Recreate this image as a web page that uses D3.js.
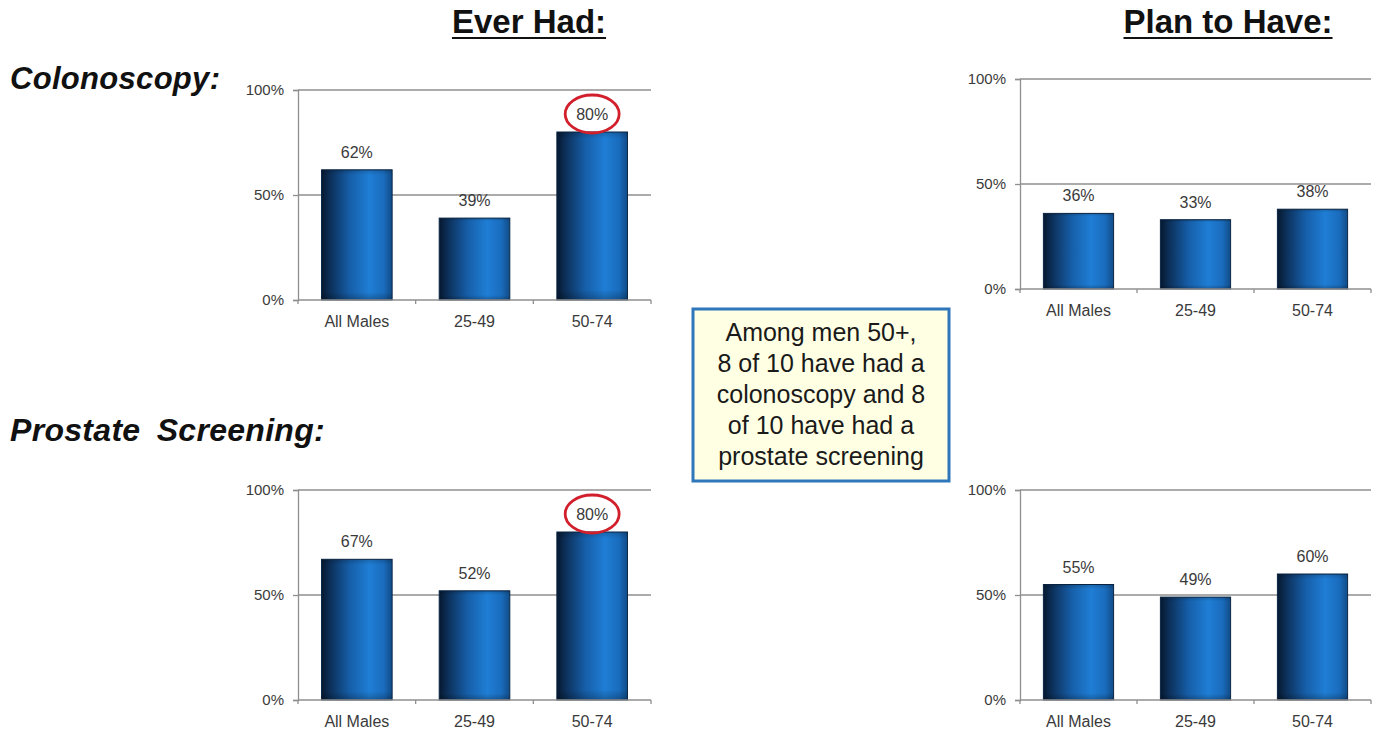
<!DOCTYPE html>
<html>
<head>
<meta charset="utf-8">
<script src="https://cdn.jsdelivr.net/npm/d3@7"></script>
<style>
  html, body { margin: 0; padding: 0; background: #fff; }
  svg { display: block; font-family: Arial, "Liberation Sans", sans-serif; }
</style>
</head>
<body>
<svg id="chart" width="1379" height="732"></svg>
<script>
// Screening rates among men, by age group
const categories = ["All Males", "25-49", "50-74"];
const colonoscopyEver = [62, 39, 80];
const colonoscopyPlan = [36, 33, 38];
const prostateEver = [67, 52, 80];
const prostatePlan = [55, 49, 60];
const yTicks = [0, 50, 100];
const highlightEver = [false, false, true];
const highlightPlan = [false, false, false];

const columnTitles = ["Ever Had:", "Plan to Have:"];
const rowTitles = ["Colonoscopy:", "Prostate Screening:"];
const noteLines = [
  "Among men 50+,",
  "8 of 10 have had a",
  "colonoscopy and 8",
  "of 10 have had a",
  "prostate screening"
];

const svg = d3.select("#chart");
const defs = svg.append("defs");

// Cylinder-like horizontal shading on bars
const grad = defs.append("linearGradient")
  .attr("id", "barGrad").attr("x1", "0").attr("x2", "1").attr("y1", "0").attr("y2", "0");
[["0%", "#06182f"], ["12%", "#0c2f58"], ["40%", "#165ea8"], ["68%", "#1f7ed5"],
 ["88%", "#1a6cbd"], ["100%", "#114c88"]]
  .forEach(([o, c]) => grad.append("stop").attr("offset", o).attr("stop-color", c));

const shade = defs.append("linearGradient")
  .attr("id", "barShade").attr("x1", "0").attr("x2", "0").attr("y1", "0").attr("y2", "1");
[["0%", "#000", 0.18], ["4%", "#000", 0], ["94%", "#000", 0], ["100%", "#000", 0.25]]
  .forEach(([o, c, a]) => shade.append("stop").attr("offset", o).attr("stop-color", c).attr("stop-opacity", a));

const panels = [
  { values: colonoscopyEver, hi: highlightEver, x0: 298, x1: 651, yTop: 90,  yBot: 300 },
  { values: colonoscopyPlan, hi: highlightPlan, x0: 1020, x1: 1371, yTop: 79,  yBot: 289 },
  { values: prostateEver,    hi: highlightEver, x0: 298, x1: 651, yTop: 490, yBot: 700 },
  { values: prostatePlan,    hi: highlightPlan, x0: 1020, x1: 1371, yTop: 490, yBot: 700 }
];

const gridColor = "#8f8f8f";
const textColor = "#3a3a3a";

panels.forEach(p => {
  const x = d3.scaleBand().domain(categories).range([p.x0, p.x1])
    .paddingInner(0.4).paddingOuter(0.2);
  const y = d3.scaleLinear().domain([0, 100]).range([p.yBot, p.yTop]);
  const g = svg.append("g");

  // horizontal gridlines
  g.selectAll("line.grid").data(yTicks.filter(t => t > 0)).join("line")
    .attr("x1", p.x0).attr("x2", p.x1)
    .attr("y1", d => y(d)).attr("y2", d => y(d))
    .attr("stroke", gridColor).attr("stroke-width", 1.3);

  // y axis
  const yAxis = d3.axisLeft(y).tickValues(yTicks).tickFormat(d => d + "%")
    .tickSize(5).tickPadding(9);
  const ya = g.append("g").attr("transform", `translate(${p.x0},0)`).call(yAxis);
  ya.select(".domain").attr("stroke", gridColor).attr("stroke-width", 1.3);
  ya.selectAll(".tick line").attr("stroke", gridColor).attr("stroke-width", 1.3);
  ya.selectAll(".tick text").attr("fill", textColor)
    .style("font-size", "15px").style("font-family", "Arial, 'Liberation Sans', sans-serif");

  // bars
  const barData = categories.map((c, i) => ({ c, v: p.values[i], hi: p.hi[i] }));
  g.selectAll("rect.bar").data(barData).join("rect")
    .attr("x", d => x(d.c)).attr("width", x.bandwidth())
    .attr("y", d => y(d.v)).attr("height", d => y(0) - y(d.v))
    .attr("fill", "url(#barGrad)").attr("stroke", "#0a2747").attr("stroke-width", 1);
  g.selectAll("rect.shade").data(barData).join("rect")
    .attr("x", d => x(d.c)).attr("width", x.bandwidth())
    .attr("y", d => y(d.v)).attr("height", d => y(0) - y(d.v))
    .attr("fill", "url(#barShade)");

  // x axis
  const xAxis = d3.axisBottom(x).tickSize(0).tickPadding(16);
  const xa = g.append("g").attr("transform", `translate(0,${p.yBot})`).call(xAxis);
  xa.select(".domain").remove();
  xa.selectAll(".tick text").attr("fill", textColor)
    .style("font-size", "16px").style("font-family", "Arial, 'Liberation Sans', sans-serif");
  g.append("line").attr("x1", p.x0).attr("x2", p.x1)
    .attr("y1", y(0)).attr("y2", y(0))
    .attr("stroke", gridColor).attr("stroke-width", 1.3);
  // category boundary ticks
  const bounds = categories.map(c => x(c) - x.step() * x.paddingInner() / 2)
    .map((b, i) => i === 0 ? p.x0 : b).concat([p.x1]);
  g.selectAll("line.xt").data(bounds).join("line")
    .attr("x1", d => d).attr("x2", d => d)
    .attr("y1", y(0)).attr("y2", y(0) + 4)
    .attr("stroke", gridColor).attr("stroke-width", 1.3);

  // value labels
  g.selectAll("text.val").data(barData).join("text")
    .attr("x", d => x(d.c) + x.bandwidth() / 2)
    .attr("y", d => y(d.v) - 12)
    .attr("text-anchor", "middle").attr("fill", textColor)
    .style("font-size", "16px")
    .text(d => d.v + "%");

  // emphasis rings
  g.selectAll("ellipse.ring").data(barData.filter(d => d.hi)).join("ellipse")
    .attr("cx", d => x(d.c) + x.bandwidth() / 2)
    .attr("cy", d => y(d.v) - 18)
    .attr("rx", 27).attr("ry", 19)
    .attr("fill", "none").attr("stroke", "#d21f2c").attr("stroke-width", 2.8);
});

// column headings
const colX = [529, 1228];
columnTitles.forEach((t, i) => {
  const txt = svg.append("text")
    .attr("x", colX[i]).attr("y", 33)
    .attr("text-anchor", "middle")
    .attr("fill", "#111")
    .style("font-size", "33px").style("font-weight", "bold")
    .text(t);
  const bb = txt.node().getBBox();
  svg.append("line")
    .attr("x1", bb.x).attr("x2", bb.x + bb.width)
    .attr("y1", 38).attr("y2", 38)
    .attr("stroke", "#111").attr("stroke-width", 2.2);
});

// row headings
const rowY = [89, 441];
const rowSize = [31, 32];
rowTitles.forEach((t, i) => {
  svg.append("text")
    .attr("x", 10).attr("y", rowY[i])
    .attr("fill", "#111")
    .style("font-size", rowSize[i] + "px").style("font-weight", "bold").style("font-style", "italic")
    .style("letter-spacing", "0.3px").style("word-spacing", "7px")
    .text(t);
});

// note box
svg.append("rect")
  .attr("x", 693).attr("y", 309).attr("width", 256).attr("height", 172)
  .attr("fill", "#ffffe4").attr("stroke", "#2f76ba").attr("stroke-width", 3);
svg.append("g").selectAll("text").data(noteLines).join("text")
  .attr("x", 821).attr("y", (d, i) => 341 + i * 31)
  .attr("text-anchor", "middle").attr("fill", "#1a1a1a")
  .style("font-size", "25px")
  .text(d => d);
</script>
</body>
</html>
